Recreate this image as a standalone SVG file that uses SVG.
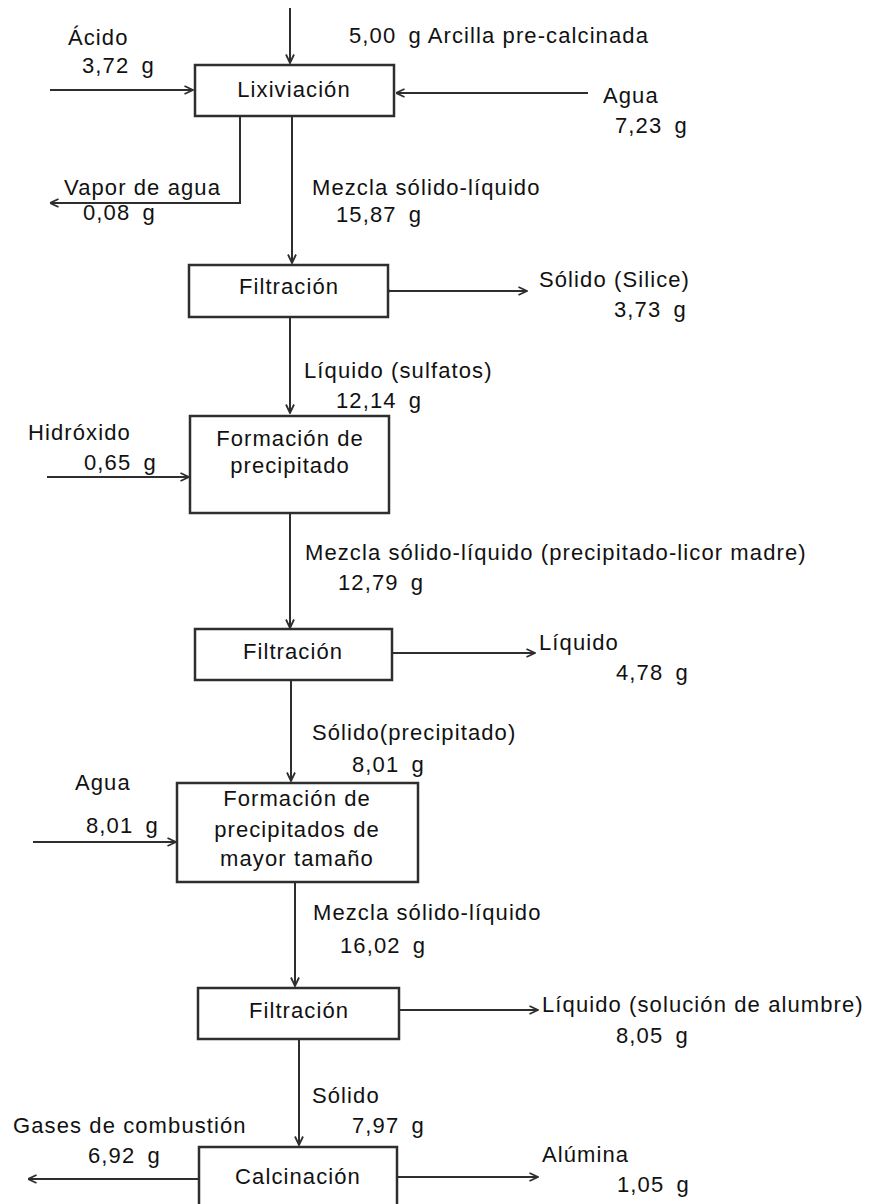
<svg xmlns="http://www.w3.org/2000/svg" width="869" height="1204" viewBox="0 0 869 1204">
  <style>
    .box { fill: #ffffff; stroke: #2e2e2e; stroke-width: 2.5; }
    .flow { fill: none; stroke: #2e2e2e; stroke-width: 2; marker-end: url(#head); }
    .t { font-family: "Liberation Sans", Arial, sans-serif; font-size: 22px; letter-spacing: 1.1px; fill: #111111; }
    .num { word-spacing: 5px; }
    .c { text-anchor: middle; }
  </style>
  <defs>
    <marker id="head" viewBox="0 0 10 10" refX="9.5" refY="5" markerWidth="10" markerHeight="10" markerUnits="userSpaceOnUse" orient="auto">
      <path d="M1,1 L9.5,5 L1,9" fill="none" stroke="#2e2e2e" stroke-width="1.8"/>
    </marker>
  </defs>
  <rect width="869" height="1204" fill="#ffffff"/>

  <!-- process flows -->
  <g id="connectors">
    <path class="flow" d="M290,8 V63"/>
    <path class="flow" d="M50,90 H193"/>
    <path class="flow" d="M588,93 H396"/>
    <path class="flow" d="M240,117 V203 H50"/>
    <path class="flow" d="M292,117 V263"/>
    <path class="flow" d="M388,291 H527"/>
    <circle cx="388" cy="291" r="2" fill="#2e2e2e"/>
    <path class="flow" d="M290,318 V413"/>
    <path class="flow" d="M47,477 H189"/>
    <path class="flow" d="M290,514 V628"/>
    <path class="flow" d="M392,653 H535"/>
    <path class="flow" d="M291,681 V781"/>
    <path class="flow" d="M33,842 H176"/>
    <path class="flow" d="M295,883 V986"/>
    <path class="flow" d="M399,1010 H538"/>
    <path class="flow" d="M299,1040 V1145"/>
    <path class="flow" d="M199,1179 H28"/>
    <path class="flow" d="M397,1177 H538"/>
  </g>

  <!-- stream labels -->
  <g id="labels">
    <text class="t" x="68" y="45">Ácido</text>
    <text class="t num" x="82" y="73">3,72 g</text>
    <text class="t" x="349" y="43"><tspan class="num">5,00 g</tspan> Arcilla pre-calcinada</text>
    <text class="t" x="603" y="103">Agua</text>
    <text class="t num" x="615" y="133">7,23 g</text>
    <text class="t" x="64" y="195">Vapor de agua</text>
    <text class="t num" x="83" y="220">0,08 g</text>
    <text class="t" x="312" y="195">Mezcla sólido-líquido</text>
    <text class="t num" x="336" y="222">15,87 g</text>
    <text class="t" x="539" y="287">Sólido (Silice)</text>
    <text class="t num" x="614" y="317">3,73 g</text>
    <text class="t" x="304" y="378">Líquido (sulfatos)</text>
    <text class="t num" x="336" y="408">12,14 g</text>
    <text class="t" x="28" y="440">Hidróxido</text>
    <text class="t num" x="84" y="470">0,65 g</text>
    <text class="t" x="305" y="560">Mezcla sólido-líquido (precipitado-licor madre)</text>
    <text class="t num" x="338" y="590">12,79 g</text>
    <text class="t" x="539" y="650">Líquido</text>
    <text class="t num" x="616" y="680">4,78 g</text>
    <text class="t" x="312" y="740">Sólido(precipitado)</text>
    <text class="t num" x="352" y="772">8,01 g</text>
    <text class="t" x="75" y="790">Agua</text>
    <text class="t num" x="86" y="833">8,01 g</text>
    <text class="t" x="313" y="920">Mezcla sólido-líquido</text>
    <text class="t num" x="340" y="953">16,02 g</text>
    <text class="t" x="542" y="1012">Líquido (solución de alumbre)</text>
    <text class="t num" x="616" y="1043">8,05 g</text>
    <text class="t" x="312" y="1103">Sólido</text>
    <text class="t num" x="352" y="1133">7,97 g</text>
    <text class="t" x="13" y="1133">Gases de combustión</text>
    <text class="t num" x="88" y="1163">6,92 g</text>
    <text class="t" x="542" y="1162">Alúmina</text>
    <text class="t num" x="617" y="1192">1,05 g</text>
  </g>

  <!-- unit operations -->
  <g id="lixiviacion">
    <rect class="box" x="195" y="65" width="199" height="51"/>
    <text class="t c" x="294" y="97">Lixiviación</text>
  </g>
  <g id="filtracion-1">
    <rect class="box" x="189" y="265" width="199" height="52"/>
    <text class="t c" x="289" y="294">Filtración</text>
  </g>
  <g id="formacion-precipitado">
    <rect class="box" x="190" y="416" width="199" height="97"/>
    <text class="t c" x="290" y="446">Formación de</text>
    <text class="t c" x="290" y="473">precipitado</text>
  </g>
  <g id="filtracion-2">
    <rect class="box" x="195" y="629" width="197" height="51"/>
    <text class="t c" x="293" y="659">Filtración</text>
  </g>
  <g id="formacion-precipitados-mayor">
    <rect class="box" x="177" y="783" width="241" height="99"/>
    <text class="t c" x="297" y="806">Formación de</text>
    <text class="t c" x="297" y="837">precipitados de</text>
    <text class="t c" x="297" y="866">mayor tamaño</text>
  </g>
  <g id="filtracion-3">
    <rect class="box" x="198" y="988" width="201" height="51"/>
    <text class="t c" x="299" y="1018">Filtración</text>
  </g>
  <g id="calcinacion">
    <rect class="box" x="199" y="1147" width="198" height="70"/>
    <text class="t c" x="298" y="1184">Calcinación</text>
  </g>
</svg>
